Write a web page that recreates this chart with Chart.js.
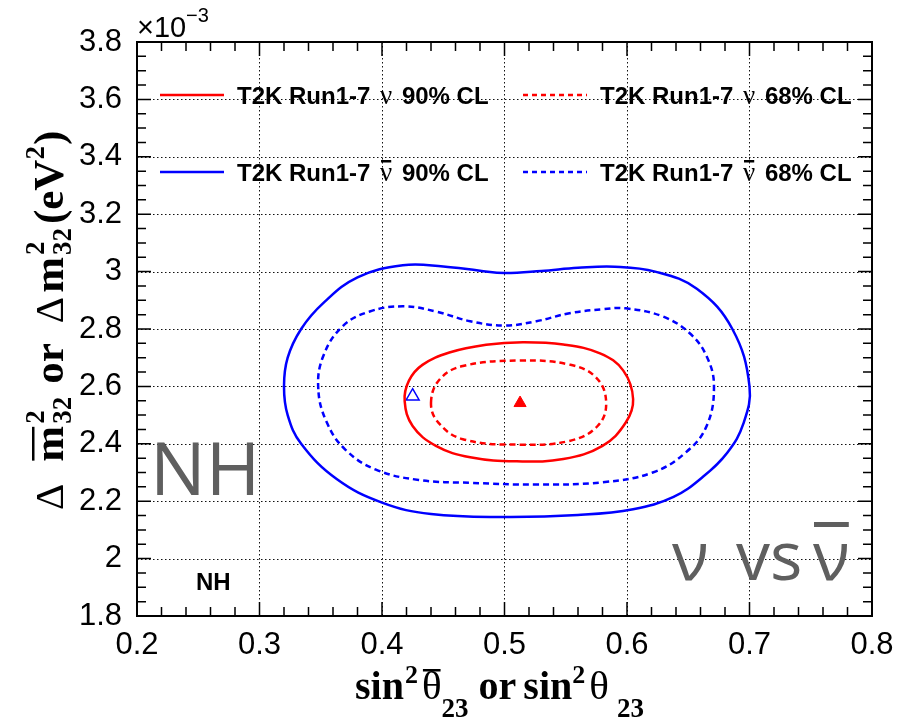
<!DOCTYPE html>
<html>
<head>
<meta charset="utf-8">
<script src="https://cdn.jsdelivr.net/npm/chart.js@4.4.1/dist/chart.umd.min.js"></script>
<style>
  html, body { margin: 0; padding: 0; background: #fff; }
  canvas { display: block; }
</style>
</head>
<body>
<canvas id="osc" width="911" height="722" style="width:911px;height:722px"></canvas>
<script>
// axis ticks
const xTicks = [0.2, 0.3, 0.4, 0.5, 0.6, 0.7, 0.8];
const yTicks = [1.8, 2.0, 2.2, 2.4, 2.6, 2.8, 3.0, 3.2, 3.4, 3.6, 3.8];

// closed contours: [sin^2 theta23, dm2_32 (x1e-3 eV^2)], the line joins back to the first point
const nu90 = [[0.4185, 2.549], [0.422, 2.62], [0.433, 2.675], [0.455, 2.718], [0.485, 2.745],
  [0.515, 2.754], [0.548, 2.746], [0.578, 2.715], [0.597, 2.655], [0.605, 2.555], [0.599, 2.474],
  [0.580, 2.393], [0.548, 2.347], [0.510, 2.339], [0.472, 2.353], [0.444, 2.393], [0.425, 2.462]];
const nu68 = [[0.440, 2.543], [0.447, 2.624], [0.466, 2.671], [0.512, 2.690], [0.553, 2.676],
  [0.575, 2.630], [0.583, 2.543], [0.576, 2.462], [0.553, 2.410], [0.512, 2.397], [0.466, 2.416],
  [0.446, 2.474]];
const nubar90 = [[0.320, 2.60], [0.323, 2.70], [0.334, 2.80], [0.352, 2.89], [0.380, 2.98],
  [0.417, 3.022], [0.450, 3.018], [0.480, 3.003], [0.500, 2.995], [0.530, 3.002], [0.560, 3.013],
  [0.590, 3.017], [0.623, 3.00], [0.657, 2.94], [0.686, 2.80], [0.700, 2.60], [0.695, 2.47],
  [0.682, 2.37], [0.662, 2.285], [0.638, 2.215], [0.605, 2.172], [0.560, 2.152], [0.500, 2.145],
  [0.440, 2.155], [0.400, 2.195], [0.363, 2.277], [0.334, 2.40], [0.323, 2.50]];
const nubar68 = [[0.348, 2.59], [0.352, 2.705], [0.368, 2.81], [0.390, 2.861], [0.417, 2.879],
  [0.444, 2.861], [0.472, 2.827], [0.500, 2.812], [0.526, 2.827], [0.553, 2.855], [0.580, 2.869],
  [0.599, 2.872], [0.629, 2.844], [0.651, 2.786], [0.665, 2.705], [0.671, 2.60], [0.665, 2.462],
  [0.648, 2.37], [0.621, 2.30], [0.580, 2.266], [0.526, 2.258], [0.472, 2.264], [0.430, 2.274],
  [0.395, 2.31], [0.370, 2.38], [0.355, 2.474]];

// best fit points
const nuBest = [[0.5127, 2.542]];
const nubarBest = [[0.425, 2.566]];

const pts = a => a.map(p => ({ x: p[0], y: p[1] }));
const RED = '#ff0000', BLUE = '#0000ff';

function contour(label, data, color, dash) {
  return {
    type: 'line', closed: true,
    label, data: pts(data), borderColor: color, backgroundColor: color,
    borderWidth: 2.5, borderDash: dash, pointRadius: 0, tension: 0.4, fill: false
  };
}

const sans = (s, w) => `${w || ''} ${s}px "Liberation Sans"`;
const B = s => `bold ${s}px "Liberation Serif"`;
const R = s => `${s}px "Liberation Serif"`;

// draws a run of text pieces left to right; supports sup/sub stacks and overlines
function drawRun(ctx, parts, x0, y0) {
  let x = x0;
  for (const p of parts) {
    x += p.gap || 0;
    const items = p.stack || [p];
    let adv = 0;
    for (const it of items) {
      ctx.font = it.f;
      const w = ctx.measureText(it.t).width;
      ctx.fillText(it.t, x, y0 + (it.dy || 0));
      if (it.bar) ctx.fillRect(x + 1, y0 + it.bar, w - 2, 2.5);
      adv = Math.max(adv, w);
    }
    x += adv;
  }
}

// close the contour lines into smooth loops (same mechanism the radar chart uses)
const closeLoops = {
  id: 'closeLoops',
  afterDatasetsUpdate(chart) {
    chart.data.datasets.forEach((ds, i) => {
      const line = chart.getDatasetMeta(i).dataset;
      if (!ds.closed || !line) return;
      line._loop = true;
      line._fullLoop = true;
      line._segments = undefined;
      line._path = undefined;
      line._pointsUpdated = false;
    });
  }
};

const decor = {
  id: 'decor',
  beforeDatasetsDraw(chart) {
    const { ctx, chartArea: a, scales: { x, y } } = chart;
    ctx.save();
    ctx.strokeStyle = '#111';
    ctx.lineWidth = 1;
    ctx.setLineDash([1.5, 2.5]);
    ctx.beginPath();
    xTicks.slice(1, -1).forEach(v => {
      const px = Math.round(x.getPixelForValue(v)) + 0.5;
      ctx.moveTo(px, a.top); ctx.lineTo(px, a.bottom);
    });
    yTicks.slice(1, -1).forEach(v => {
      const py = Math.round(y.getPixelForValue(v)) + 0.5;
      ctx.moveTo(a.left, py); ctx.lineTo(a.right, py);
    });
    ctx.stroke();
    ctx.restore();
  },
  afterDatasetsDraw(chart) {
    const { ctx, chartArea: a, scales: { x, y } } = chart;
    ctx.save();
    ctx.strokeStyle = '#000';
    ctx.lineWidth = 2;
    ctx.strokeRect(a.left, a.top, a.right - a.left, a.bottom - a.top);
    ctx.lineWidth = 1.5;
    ctx.beginPath();
    for (let i = 0; i <= 30; i++) {
      const px = x.getPixelForValue(0.2 + i * 0.02);
      const len = i % 5 === 0 ? 14 : 9;
      ctx.moveTo(px, a.bottom); ctx.lineTo(px, a.bottom - len);
      ctx.moveTo(px, a.top); ctx.lineTo(px, a.top + len);
    }
    for (let i = 0; i <= 40; i++) {
      const py = y.getPixelForValue(1.8 + i * 0.05);
      const len = i % 4 === 0 ? 14 : 9;
      ctx.moveTo(a.left, py); ctx.lineTo(a.left + len, py);
      ctx.moveTo(a.right, py); ctx.lineTo(a.right - len, py);
    }
    ctx.stroke();
    ctx.restore();
  },
  afterDraw(chart) {
    const { ctx } = chart;
    ctx.save();
    ctx.fillStyle = '#000';
    ctx.textBaseline = 'alphabetic';
    ctx.textAlign = 'left';

    // legend, two columns by two rows
    const cols = [160, 523], rows = [95, 172];
    chart.data.datasets.slice(0, 4).forEach((ds, i) => {
      const lx = cols[i % 2], ly = rows[Math.floor(i / 2)];
      ctx.save();
      ctx.strokeStyle = ds.borderColor;
      ctx.lineWidth = 2.5;
      ctx.setLineDash(ds.borderDash.length ? [5, 4] : []);
      ctx.beginPath(); ctx.moveTo(lx, ly); ctx.lineTo(lx + 64, ly); ctx.stroke();
      ctx.restore();
      const k = ds.label.indexOf('ν');
      const bar = ds.label[k + 1] === '\u0304';
      drawRun(ctx, [
        { t: ds.label.slice(0, k), f: sans(24, 'bold') },
        { t: 'ν', f: R(27), gap: 3, bar: bar ? -21 : 0 },
        { t: ds.label.slice(k + (bar ? 2 : 1)), f: sans(24, 'bold'), gap: 3 }
      ], lx + 77, ly + 9);
    });

    // exponent of the y axis
    ctx.font = sans(29);
    ctx.fillText('×10', 137, 37);
    ctx.font = sans(20);
    ctx.fillText('−3', 186, 22);

    // x axis title
    drawRun(ctx, [
      { t: 'sin', f: B(40) },
      { t: '2', f: B(26), dy: -16, gap: 1 },
      { t: 'θ', f: R(41), gap: 4, bar: -30 },
      { t: '23', f: B(27), dy: 18 },
      { t: 'or', f: B(40), gap: 10 },
      { t: 'sin', f: B(40), gap: 7 },
      { t: '2', f: B(26), dy: -16 },
      { t: 'θ', f: R(41), gap: 4 },
      { t: '23', f: B(27), dy: 18, gap: 8 }
    ], 355, 699);

    // y axis title, rotated
    ctx.save();
    ctx.translate(63, 510);
    ctx.rotate(-Math.PI / 2);
    const supsub = g => ({ gap: g, stack: [{ t: '2', f: B(27), dy: -19 }, { t: '32', f: B(27), dy: 8 }] });
    drawRun(ctx, [
      { t: 'Δ', f: R(41) },
      { t: 'm', f: B(43), gap: 22, bar: -31 },
      supsub(2),
      { t: 'or', f: B(43), gap: 13 },
      { t: 'Δ', f: R(41), gap: 20 },
      { t: 'm', f: B(43), gap: 4 },
      supsub(2),
      { t: '(eV', f: B(43), gap: 4 },
      { t: '2', f: B(27), dy: -19 },
      { t: ')', f: B(43), gap: 1 }
    ], 0, 0);
    ctx.restore();

    // hierarchy labels
    ctx.font = sans(24, 'bold');
    ctx.fillText('NH', 196, 590);
    ctx.fillStyle = '#5f5f5f';
    ctx.font = '74px "Open Sans"';
    ctx.fillText('NH', 150, 495);
    ctx.font = '68px "Open Sans"';
    ctx.fillText('ν', 672, 580);
    ctx.fillText('vs', 736, 580);
    const nx = 813;
    ctx.fillText('ν', nx, 580);
    const nw = ctx.measureText('ν').width;
    ctx.fillRect(nx + 1, 522, nw - 2, 5);
    ctx.restore();
  }
};

new Chart(document.getElementById('osc'), {
  type: 'scatter',
  data: {
    datasets: [
      contour('T2K Run1-7 ν 90% CL', nu90, RED, []),
      contour('T2K Run1-7 ν 68% CL', nu68, RED, [6, 4]),
      contour('T2K Run1-7 ν\u0304 90% CL', nubar90, BLUE, []),
      contour('T2K Run1-7 ν\u0304 68% CL', nubar68, BLUE, [6, 4]),
      {
        label: 'ν best fit', data: pts(nuBest), pointStyle: 'triangle', pointRadius: 7,
        backgroundColor: RED, borderColor: RED, borderWidth: 1
      },
      {
        label: 'ν\u0304 best fit', data: pts(nubarBest), pointStyle: 'triangle', pointRadius: 7.5,
        backgroundColor: 'rgba(0,0,0,0)', borderColor: BLUE, borderWidth: 1.5
      }
    ]
  },
  options: {
    responsive: false,
    animation: false,
    devicePixelRatio: 1,
    events: [],
    layout: { padding: { left: 0, top: 42, right: 39, bottom: 0 } },
    plugins: { legend: { display: false }, tooltip: { enabled: false } },
    scales: {
      x: {
        type: 'linear', min: 0.2, max: 0.8,
        grid: { display: false }, border: { display: false },
        afterBuildTicks: s => { s.ticks = xTicks.map(v => ({ value: v })); },
        afterFit: s => { s.height = 106; },
        ticks: {
          color: '#000', padding: 3, maxRotation: 0, autoSkip: false,
          font: { family: 'Liberation Sans', size: 31 },
          callback: v => String(Number(v.toFixed(2)))
        }
      },
      y: {
        type: 'linear', min: 1.8, max: 3.8,
        grid: { display: false }, border: { display: false },
        afterBuildTicks: s => { s.ticks = yTicks.map(v => ({ value: v })); },
        afterFit: s => { s.width = 137; },
        ticks: {
          color: '#000', padding: 7, autoSkip: false,
          font: { family: 'Liberation Sans', size: 31 },
          callback: v => String(Number(v.toFixed(2)))
        }
      }
    }
  },
  plugins: [closeLoops, decor]
});
</script>
</body>
</html>
